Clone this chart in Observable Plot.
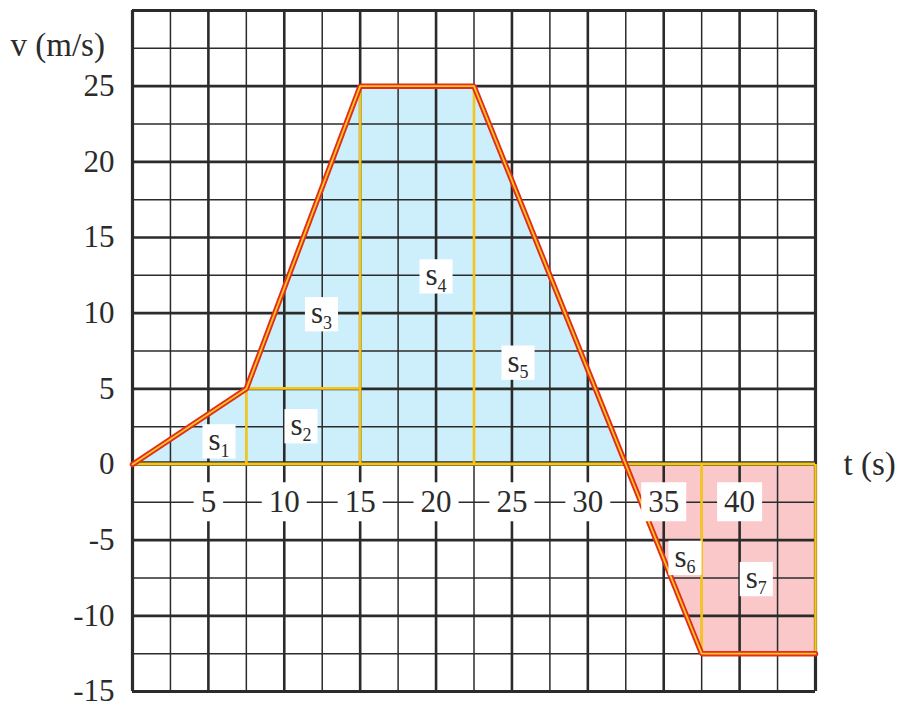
<!DOCTYPE html>
<html><head><meta charset="utf-8">
<script src="https://cdn.jsdelivr.net/npm/d3@7"></script>
<script src="https://cdn.jsdelivr.net/npm/@observablehq/plot@0.6"></script>
<style>html,body{margin:0;background:#fff} svg{display:block}</style>
</head><body><div id="chart"></div>
<script>
// velocity-time polygon
const tPts = [0, 7.5, 15, 22.5, 32.5, 37.5, 45];
const vPts = [0, 5, 25, 25, 0, -12.5, -12.5];
// tick labels
const xTickLabels = [5, 10, 15, 20, 25, 30, 35, 40];
const yTickLabels = [-15, -10, -5, 0, 5, 10, 15, 20, 25];
// area labels s1..s7
const areaSub = ["1", "2", "3", "4", "5", "6", "7"];
const areaT = [5.7, 11.1, 12.45, 20, 25.4, 36.4, 41.1];
const areaV = [1.6, 2.6, 10.0, 12.5, 6.8, -6.1, -7.5];
// yellow divider segments
const divT = [7.5, 15, 22.5, 37.5, 45];
const divTop = [5, 25, 25, -12.5, -12.5];
const hT1 = [0, 7.5];
const hT2 = [45, 15];
const hV = [0, 5];

const ink = "#2b2b2b";
const posPts = tPts.slice(0, 5).map((t, i) => ({t, v: vPts[i]}));
const negPts = tPts.slice(4).map((t, i) => ({t, v: vPts[i + 4]}));
const allPts = tPts.map((t, i) => ({t, v: vPts[i]}));
const gridX = d3.range(0, 45.01, 2.5);
const gridY = d3.range(-15, 30.01, 2.5);
const isMajor = d => Math.abs(d % 5) < 1e-9;

const plot = Plot.plot({
  width: 897, height: 702,
  marginLeft: 132, marginRight: 82, marginTop: 10, marginBottom: 11,
  x: {domain: [0, 45], axis: null},
  y: {domain: [-15, 30], axis: null},
  style: {fontFamily: "'Liberation Serif', serif", fontSize: "30px", color: ink, background: "#fff"},
  marks: [
    Plot.areaY(posPts, {x: "t", y: "v", fill: "#cdeefb"}),
    Plot.areaY(negPts, {x: "t", y: "v", fill: "#fbc8c9"}),
    Plot.ruleX(gridX.filter(d => !isMajor(d)), {y1: -15, y2: 30, stroke: ink, strokeWidth: 1.5}),
    Plot.ruleY(gridY.filter(d => !isMajor(d)), {x1: 0, x2: 45, stroke: ink, strokeWidth: 1.5}),
    Plot.ruleX(gridX.filter(isMajor), {y1: -15, y2: 30, stroke: ink, strokeWidth: 2.6}),
    Plot.ruleY(gridY.filter(isMajor), {x1: 0, x2: 45, stroke: ink, strokeWidth: 2.6}),
    Plot.ruleX([0, 45], {y1: -15, y2: 30, stroke: ink, strokeWidth: 3.2}),
    Plot.ruleY([-15, 30], {x1: 0, x2: 45, stroke: ink, strokeWidth: 3.2}),
    Plot.ruleY([0], {x1: 0, x2: 45, stroke: ink, strokeWidth: 4.5, dy: -1}),
    // yellow dividers
    Plot.ruleX(divT, {x: d => d, y1: 0, y2: (d, i) => divTop[i], stroke: "#f5c518", strokeWidth: 2.6}),
    Plot.ruleY(hV, {y: d => d, x1: (d, i) => hT1[i], x2: (d, i) => hT2[i], stroke: "#f5c518", strokeWidth: (d, i) => i === 0 ? 3 : 2.6, dy: (d, i) => 0}),
    // polygon outline
    Plot.line(allPts, {x: "t", y: "v", stroke: "#e52a1e", strokeWidth: 5.5, strokeLinejoin: "miter"}),
    Plot.line(allPts, {x: "t", y: "v", stroke: "#f7c81e", strokeWidth: 1.8, strokeLinejoin: "miter"}),
    // x tick labels inside the grid
    Plot.text(xTickLabels, {x: d => d, y: -2.5, text: d => String(d), fill: ink, fontSize: 31, ariaDescription: "xticks"}),
    // y tick labels
    Plot.axisY(yTickLabels, {tickSize: 0, tickPadding: 18, fontSize: 31, label: null, fill: ink, tickFormat: d => String(d)}),
    // area labels
    Plot.text(areaSub, {x: (d, i) => areaT[i], y: (d, i) => areaV[i], text: d => "s" + d, fill: ink, fontSize: 31, ariaDescription: "areas"}),
    // axis titles
    Plot.text(["v (m/s)"], {frameAnchor: "top-left", dx: -122, dy: 22, textAnchor: "start", fill: ink, fontSize: 33}),
    Plot.text(["t (s)"], {x: 45, y: 0, dx: 28, textAnchor: "start", fill: ink, fontSize: 33})
  ]
});
document.getElementById("chart").append(plot);

const NS = "http://www.w3.org/2000/svg";
plot.querySelectorAll('g[aria-description="areas"] text').forEach(t => {
  const s = t.textContent;
  t.textContent = "";
  const a = document.createElementNS(NS, "tspan");
  a.textContent = s[0];
  const b = document.createElementNS(NS, "tspan");
  b.textContent = s.slice(1);
  b.setAttribute("font-size", "18");
  b.setAttribute("dy", "0.35em");
  t.append(a, b);
});
function boxify(desc, padX, padY) {
  plot.querySelectorAll(`g[aria-description="${desc}"] text`).forEach(t => {
    const bb = t.getBBox();
    const r = document.createElementNS(NS, "rect");
    r.setAttribute("x", bb.x - padX);
    r.setAttribute("y", bb.y - padY);
    r.setAttribute("width", bb.width + 2 * padX);
    r.setAttribute("height", bb.height + 2 * padY);
    r.setAttribute("fill", "#fff");
    const tr = t.getAttribute("transform");
    if (tr) r.setAttribute("transform", tr);
    t.parentNode.insertBefore(r, t);
  });
}
boxify("xticks", 7, 2);
boxify("areas", 6, -2);
</script>
</body></html>
